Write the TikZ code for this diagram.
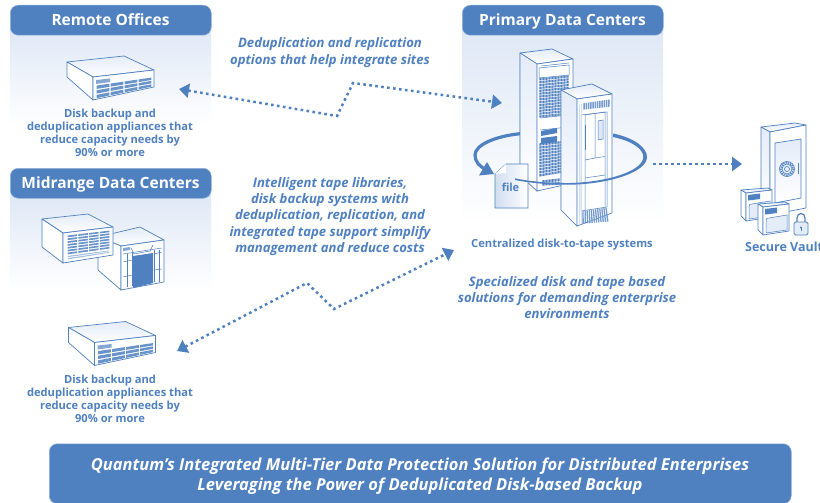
\documentclass[tikz,border=0pt]{standalone}
\usepackage{fontspec}
\setmainfont{Open Sans}
\usetikzlibrary{arrows.meta}
\definecolor{qblue}{HTML}{4F81C1}
\definecolor{qpanel}{HTML}{DFE8F6}
\definecolor{qface}{HTML}{E4ECF8}
\tikzset{
  hdr/.style={fill=qblue,draw=qblue!60,line width=.5pt,rounded corners=8pt},
  hdrtext/.style={text=white,font=\fontsize{15.5}{18}\selectfont\bfseries,anchor=base,inner sep=0pt},
  small/.style={text=qblue,font=\fontsize{11.15}{12.9}\selectfont\bfseries,align=center,anchor=north,inner sep=0pt},
  note/.style={text=qblue,font=\fontsize{13.1}{16.4}\selectfont\bfseries\itshape,align=center,anchor=north,inner sep=0pt},
  dev/.style={draw=qblue,line width=.7pt,fill=white,line join=round},
  devf/.style={draw=qblue,line width=.7pt,top color=qface,bottom color=white,line join=round},
  devl/.style={draw=qblue,line width=.5pt},
  link/.style={draw=qblue,line width=2.5pt,dash pattern=on 2.6pt off 3.4pt},
  both/.style={link,{Triangle[length=10pt,width=14pt,fill=qblue]}-{Triangle[length=10pt,width=14pt,fill=qblue]}},
  one/.style={link,-{Triangle[length=10pt,width=14pt,fill=qblue]}},
}
% bilinear grid of cells inside a quadrilateral
\newcommand\QS[8]{\def\qxa{#1}\def\qya{#2}\def\qxb{#3}\def\qyb{#4}\def\qxc{#5}\def\qyc{#6}\def\qxd{#7}\def\qyd{#8}}
\newcommand\QP[3]{%
  \pgfmathsetmacro\qrx{(1-#2)*((1-#1)*\qxa+#1*\qxb)+#2*((1-#1)*\qxd+#1*\qxc)}%
  \pgfmathsetmacro\qry{(1-#2)*((1-#1)*\qya+#1*\qyb)+#2*((1-#1)*\qyd+#1*\qyc)}%
  \coordinate (#3) at (\qrx,\qry);}
\newcommand\QG[5]{% nu nv gapu gapv colour
  \pgfmathtruncatemacro\qnu{#1-1}\pgfmathtruncatemacro\qnv{#2-1}%
  \foreach \i in {0,...,\qnu}{\foreach \j in {0,...,\qnv}{%
    \pgfmathsetmacro\ua{(\i+#3)/#1}\pgfmathsetmacro\ub{(\i+1-#3)/#1}%
    \pgfmathsetmacro\va{(\j+#4)/#2}\pgfmathsetmacro\vb{(\j+1-#4)/#2}%
    \QP{\ua}{\va}{q1}\QP{\ub}{\va}{q2}\QP{\ub}{\vb}{q3}\QP{\ua}{\vb}{q4}%
    \fill[#5] (q1)--(q2)--(q3)--(q4)--cycle;}}}
% small deduplication appliance
\newcommand\Appliance{%
  \fill[white] (67,62)--(124,56)--(154,70)--(154,87)--(93,100)--(67,77)--cycle;
  \draw[devf] (67,62)--(124,56)--(154,70)--(93,77)--cycle;
  \draw[dev] (67,62)--(93,77)--(93,100)--(67,77)--cycle;
  \draw[dev] (93,77)--(154,70)--(154,87)--(93,100)--cycle;
  \QS{96}{80}{110}{78.5}{110}{82}{96}{84}\QG{1}{1}{0}{0}{qblue!70}
  \QS{96}{85}{152}{77}{152}{87}{96}{99}\QG{4}{3}{.05}{.14}{qblue!85}
}
\begin{document}
\begin{tikzpicture}[x=1pt,y=-1pt]
\useasboundingbox (0,0) rectangle (820,503);
\fill[white] (0,0) rectangle (820,503);
% panels
\shade[top color=qpanel,bottom color=white] (10,30) rectangle (211,125);
\shade[top color=qpanel,bottom color=white] (10,195) rectangle (211,290);
\shade[top color=qpanel,bottom color=white] (462,30) rectangle (663,222);
% headers
\node[hdr,minimum width=201pt,minimum height=30pt,anchor=north west,inner sep=0pt] (hremote) at (10,5) {};
\node[hdrtext] (lremote) at (110.5,25.2) {Remote Offices};
\node[hdr,minimum width=201pt,minimum height=30pt,anchor=north west,inner sep=0pt] (hmid) at (10,168) {};
\node[hdrtext] (lmid) at (110.5,188.4) {Midrange Data Centers};
\node[hdr,minimum width=201pt,minimum height=30pt,anchor=north west,inner sep=0pt] (hprim) at (462,5) {};
\node[hdrtext] (lprim) at (562.5,25.3) {Primary Data Centers};
% remote appliance
\Appliance
% midrange B
\draw[devf] (98,237)--(140,227)--(164,240)--(121,246)--cycle;
\draw[dev] (98,237)--(121,246)--(121,290)--(98,270)--cycle;
\draw[dev] (121,246)--(164,240)--(164,282)--(121,290)--cycle;
\draw[devl] (123,254)--(162,248) (123,262)--(132,260) (154,254)--(162,252) (123,277)--(132,275) (154,270)--(162,269);
\draw[devl] (127,254)--(127,287) (132,253)--(132,286) (154,250)--(154,282) (159,250)--(159,282);
\fill[qblue] (133,256)--(153,253)--(153,283)--(133,288)--cycle;
\fill[qblue!70] (123,248)--(130,247)--(130,250)--(123,251)--cycle;
\draw[devl] (131,248)--(134,254)--(150,251)--(153,245);
% midrange A
\draw[devf] (42,219)--(88,214)--(113,227)--(63,233)--cycle;
\draw[dev] (42,219)--(63,233)--(63,263)--(42,247)--cycle;
\draw[dev] (63,233)--(113,227)--(113,255)--(63,263)--cycle;
\QS{67}{235}{110}{230}{110}{249}{67}{255}\QG{4}{7}{.06}{.2}{qblue!85}
\QS{67}{255.5}{110}{250}{110}{253}{67}{260}\QG{1}{2}{.02}{.22}{qblue!50}
% lower appliance
\begin{scope}[xshift=1.5pt,yshift=-265.5pt]\Appliance\end{scope}
% ring behind racks
\draw[qblue,line width=3.2pt] (522,133.5) .. controls (495,136) and (475,145) .. (475,155) .. controls (475,162) and (480,167) .. (487,170);
\fill[qblue] (487,162)--(494,174)--(479,175.5)--cycle;
% rack 1
\draw[devf] (520,53)--(552,49)--(573,59)--(537,64)--cycle;
\draw[dev] (520,53)--(537,64)--(537,191)--(520,175)--cycle;
\shade[top color=qface,bottom color=white] (520,53)--(537,64)--(537,191)--(520,175)--cycle;
\draw[devl] (520,53)--(537,64)--(537,191)--(520,175)--cycle;
\draw[dev] (537,64)--(573,59)--(573,183)--(537,191)--cycle;
\draw[devl] (541,66)--(569,63);
\QS{539}{78}{569}{75}{569}{115}{539}{118}\QG{10}{14}{.1}{.12}{qblue}
\QS{539}{143}{569}{140}{569}{172}{539}{177}\QG{10}{11}{.1}{.12}{qblue}
\draw[devl] (539,68)--(569,65)--(569,75)--(539,78)--cycle (540,118)--(569,115) (540,130)--(569,127);
\QS{541}{131}{557}{128}{557}{133}{541}{136}\QG{1}{1}{0}{0}{qblue}
\QS{541}{138}{557}{136}{557}{142}{541}{144}\QG{1}{1}{0}{0}{qblue}
\QS{542}{180}{560}{178}{560}{185}{542}{186}\QG{6}{2}{.1}{.1}{qblue}
% file icon
\draw[draw=qblue,line width=.8pt,left color=qpanel!90!qblue,right color=white] (495,174)--(506,164)--(528,164)--(528,208)--(495,208)--cycle;
\fill[white] (506,164)--(506,173)--(495,174)--cycle;
\node[text=qblue,font=\fontsize{11}{13}\selectfont\bfseries,inner sep=0pt] (filelabel) at (510.5,187.5) {file};
% rack 2
\draw[devf] (561,90)--(592,84)--(612,94)--(577,99)--cycle;
\draw[dev] (561,90)--(577,99)--(577,226)--(561,210)--cycle;
\shade[top color=qface,bottom color=white] (561,90)--(577,99)--(577,226)--(561,210)--cycle;
\draw[devl] (561,90)--(577,99)--(577,226)--(561,210)--cycle;
\draw[dev] (577,99)--(612,94)--(612,213)--(577,226)--cycle;
\QS{583}{103}{610}{99}{610}{107}{583}{110}\QG{12}{1}{.2}{.05}{qblue!80}
\draw[devl,fill=white] (581,115)--(607,112)--(607,207)--(581,211)--cycle;
\draw[devl] (585,115)--(595,113.5)--(595,158)--(585,160)--cycle (595,113.5)--(605,112)--(605,156.5)--(595,158);
\draw[devl] (585,160)--(585,210) (605,157)--(605,207) (585,178)--(605,175);
\draw[devl,fill=qpanel] (598,121)--(603,120)--(603,139)--(598,140)--cycle;
\draw[qblue,line width=1.2pt] (585.5,125)--(585.5,150);
\QS{582}{211}{607}{207}{609}{222}{582}{224}\QG{12}{1}{.2}{.03}{qblue!80}
\QS{578}{104}{582}{104}{582}{224}{578}{224}\QG{2}{1}{.25}{0}{qblue!25}
% ring in front
\fill[qblue] (613,133.5) .. controls (635,138) and (647,148) .. (647,157) .. controls (647,172) and (610,184) .. (570,184.7) .. controls (550,185) and (530,183) .. (515,180) -- (515,178.3) .. controls (530,181.5) and (550,183.2) .. (570,183) .. controls (608,182) and (643,171) .. (643.3,157) .. controls (643.5,149) and (632,141) .. (613,137) -- cycle;
% vault
\draw[devf] (761,127)--(795,123)--(806,125)--(770,132)--cycle;
\draw[devf] (761,127)--(770,132)--(770,210)--(761,205)--cycle;
\draw[dev] (770,132)--(806,125)--(806,208)--(770,215)--cycle;
\draw[devf] (775,143)--(801,139)--(801,198)--(775,203)--cycle;
\draw[qblue,line width=.7pt] (787,169) circle (7.5) circle (5) circle (2.5);
\draw[qblue,densely dotted,line width=1.3pt] (787,169) circle (6.2);
\draw[qblue,line width=.8pt] (798.5,163)--(798.5,174);
\foreach \dx/\dy in {0/0,17/14}{
\begin{scope}[xshift=\dx pt,yshift=-\dy pt]
\draw[devf] (741,190)--(768,188)--(772,190)--(746,193)--cycle;
\draw[dev] (741,190)--(746,193)--(746,221)--(741,216)--cycle;
\draw[dev] (746,193)--(772,190)--(772,217)--(746,221)--cycle;
\fill[qblue] (748,195)--(760,193.5)--(760,199)--(748,200.5)--cycle;
\draw[devl,fill=qface] (749,219)--(749,207) .. controls (749,204) and (750,204) .. (752,204)--(770,201)--(770,216)--cycle;
\end{scope}}
\draw[draw=qblue,line width=1.2pt] (797,222) -- (797,218) .. controls (797,212) and (805,212) .. (805,218) -- (805,222);
\draw[draw=qblue,line width=.8pt,fill=qface,rounded corners=1.5pt] (794,222) rectangle (808,235);
\fill[qblue] (801,227.5) circle (1.2);
\draw[qblue,line width=.8pt] (801,228)--(801,231);
% texts
\node[small] (t1) at (110,109) {Disk backup and\\deduplication appliances that\\reduce capacity needs by\\90\% or more};
\node[small] (t2) at (110,375) {Disk backup and\\deduplication appliances that\\reduce capacity needs by\\90\% or more};
\node[small] (t3) at (562,239) {Centralized disk-to-tape systems};
\node[text=qblue,font=\fontsize{12.5}{15}\selectfont\bfseries,anchor=north west,inner sep=0pt] (t4) at (745,241.5) {Secure Vault};
\node[note] (n1) at (330,37.7) {Deduplication and replication\\options that help integrate sites};
\node[note] (n2) at (330,177) {Intelligent tape libraries,\\disk backup systems with\\deduplication, replication, and\\integrated tape support simplify\\management and reduce costs};
\node[note] (n3) at (567,276) {Specialized disk and tape based\\solutions for demanding enterprise\\environments};
% banner
\node[fill=qblue,draw=qblue!60,line width=.5pt,rounded corners=8pt,minimum width=742pt,minimum height=60pt,inner sep=0pt,anchor=north west] (banner) at (49,443.5) {};
\node[text=white,font=\fontsize{16.5}{20.4}\selectfont\bfseries\itshape,align=center,inner sep=0pt] (bt) at (420,476) {Quantum’s Integrated Multi-Tier Data Protection Solution for Distributed Enterprises\\Leveraging the Power of Deduplicated Disk-based Backup};
% connectors
\coordinate (a1) at (179,89);\coordinate (a2) at (337,116);\coordinate (a3) at (353,83);\coordinate (a4) at (502,103);
\draw[both] (a1)--(a2)--(a3)--(a4);
\coordinate (b1) at (177,351);\coordinate (b2) at (307,283);\coordinate (b3) at (334,309);\coordinate (b4) at (454,250);
\draw[both] (b1)--(b2)--(b3)--(b4);
\coordinate (c1) at (653,164);\coordinate (c2) at (742,164);
\draw[one] (c1)--(c2);
\end{tikzpicture}
\end{document}
